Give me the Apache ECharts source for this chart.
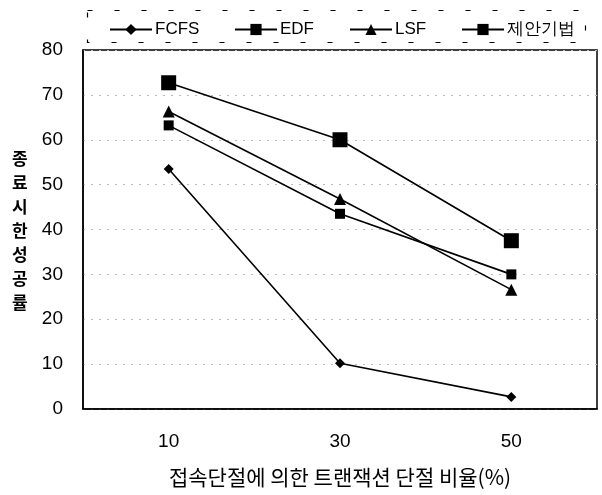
<!DOCTYPE html>
<html><head><meta charset="utf-8">
<script src="https://cdn.jsdelivr.net/npm/echarts@6/dist/echarts.min.js"></script>
<style>html,body{margin:0;padding:0;background:#fff}#c{width:602px;height:495px}</style>
</head><body><div id="c"></div>
<script>
const categories = ['10', '30', '50'];
const fcfs = [53.5, 10.2, 2.7];
const edf = [63.2, 43.5, 30.0];
const lsf = [66.3, 46.8, 26.6];
const proposed = [72.7, 60.0, 37.5];
const yTicks = [0, 10, 20, 30, 40, 50, 60, 70, 80];
const legendNames = ['FCFS', 'EDF', 'LSF', '제안기법'];

const chart = echarts.init(document.getElementById('c'));
const lineStyle = { color: '#000', width: 1.6 };
function mk(name, data, symbol, size) {
  return { name, type: 'line', data, symbol, symbolSize: size,
    itemStyle: { color: '#000' }, lineStyle, animation: false };
}
const legendLefts = [104, 229, 344, 456];
chart.setOption({
  animation: false,
  grid: { left: 83, right: 5, top: 50, bottom: 86, show: true, borderColor: '#000', borderWidth: 1.5 },
  legend: legendNames.map((n, i) => ({
    left: legendLefts[i], top: 16, itemWidth: 42, itemHeight: 14,
    textStyle: { fontFamily: 'Liberation Sans, Arial', fontSize: 17, color: '#000', padding: [0,0,0,-2] },
    data: [n]
  })),
  xAxis: {
    type: 'category', data: categories, boundaryGap: true,
    axisLine: { lineStyle: { color: '#000', width: 1.5 } },
    axisTick: { show: false },
    axisLabel: { margin: 23, fontFamily: 'Liberation Sans, Arial', fontSize: 19, color: '#000' },
    name: '접속단절에 의한 트랜잭션 단절 비율(%)', nameLocation: 'middle', nameGap: 58,
    nameTextStyle: { fontFamily: 'Noto Sans CJK KR', fontSize: 21, color: '#000' }
  },
  yAxis: {
    type: 'value', min: 0, max: 80, interval: 10,
    axisLine: { show: true, lineStyle: { color: '#000', width: 1.5 } },
    axisTick: { show: false },
    axisLabel: { margin: 20, fontFamily: 'Liberation Sans, Arial', fontSize: 19, color: '#000',
      formatter: v => yTicks.includes(v) ? String(v) : '' },
    splitLine: { show: true, lineStyle: { color: '#bbb', type: [2, 6], width: 1 } }
  },
  graphic: [
    { type: 'rect', left: 85, top: 8, shape: { width: 498, height: 32 },
      style: { fill: 'none', stroke: '#000', lineWidth: 1.2, lineDash: [5, 22] } },
    { type: 'text', left: 12, top: 147,
      style: { text: '종\n료\n시\n한\n성\n공\n률', fontFamily: 'Noto Sans CJK KR', fontSize: 17, fontWeight: 'bold',
        lineHeight: 24, fill: '#000', align: 'center' } }
  ],
  series: [
    mk('FCFS', fcfs, 'diamond', 10),
    mk('EDF', edf, 'rect', 10),
    mk('LSF', lsf, 'triangle', 12),
    mk('제안기법', proposed, 'rect', 15)
  ]
});
</script></body></html>
